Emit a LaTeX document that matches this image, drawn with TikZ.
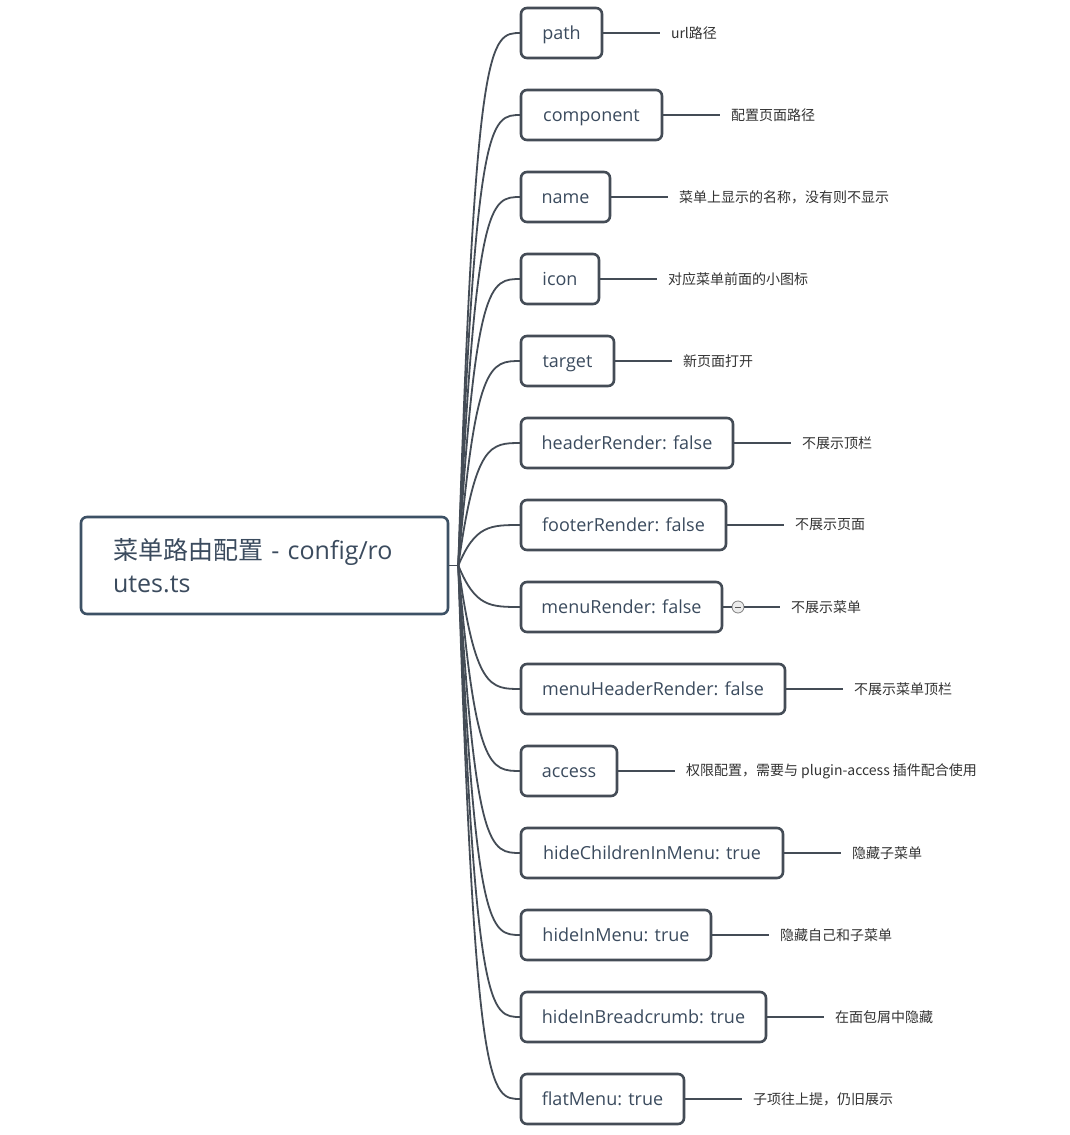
\documentclass[tikz,border=0pt]{standalone}
\usepackage{fontspec}
\setmainfont{Open Sans}
\newfontfamily\cjk{Noto Sans CJK SC}
\usetikzlibrary{positioning}

\definecolor{linegray}{HTML}{444C56}
\definecolor{rootblue}{HTML}{3D5165}
\definecolor{keytext}{HTML}{3B4B5E}
\definecolor{desctext}{HTML}{333333}

\begin{document}
\begin{tikzpicture}[x=1pt,y=-1pt,
		root/.style={draw=rootblue, line width=2.6pt, rounded corners=6pt, fill=white, minimum height=97pt, text width=303pt, inner xsep=32pt, align=left, text=keytext, font=\fontsize{25}{33}\selectfont},
		keybox/.style={draw=linegray, line width=2.6pt, rounded corners=6pt, fill=white, minimum height=50pt, inner xsep=0pt, outer sep=0pt, text height=14pt, text depth=1pt, anchor=west, text=keytext, font=\fontsize{18}{22}\selectfont},
		desc/.style={inner xsep=11pt, outer sep=0pt, text=desctext, font=\cjk\fontsize{14}{16}\selectfont},
		branch/.style={draw=linegray, line width=1.8pt},
		fold/.style={circle, draw=gray, fill=gray!15, line width=0.8pt, minimum size=12pt, inner sep=0pt}]
		\fill[white] (0,0) rectangle (1069,1135);
		\useasboundingbox (0,0) rectangle (1069,1135);
		
		% root
		\node[root] (root) at (264.5,565.5) {{\cjk 菜单路由配置} - config/ro\\utes.ts};
		\coordinate (hub) at ([xshift=9pt]root.east);
		\coordinate (ctl) at ([xshift=17pt]hub);
		\draw[branch] (root.east) -- (hub);
		
		% keys and their notes
		\foreach \i/\kname/\bw/\dtext in {
			0/path/81/url路径,
			1/component/141/配置页面路径,
			2/name/89/菜单上显示的名称，没有则不显示,
			3/icon/78/对应菜单前面的小图标,
			4/target/93/新页面打开,
			5/headerRender: false/212/不展示顶栏,
			6/footerRender: false/205/不展示页面,
			7/menuRender: false/201/不展示菜单,
			8/menuHeaderRender: false/264/不展示菜单顶栏,
			9/access/96/权限配置，需要与 plugin-access 插件配合使用,
			10/hideChildrenInMenu: true/262/隐藏子菜单,
			11/hideInMenu: true/190/隐藏自己和子菜单,
			12/hideInBreadcrumb: true/245/在面包屑中隐藏,
			13/flatMenu: true/163/子项往上提，仍旧展示}{
			\draw[branch] (hub) .. controls (ctl |- 0,{33+82*\i}) and (490,{33+82*\i}) .. (521,{33+82*\i});
			\node[keybox, minimum width=\bw pt] (k\i) at (521,{33+82*\i}) {\kname};
			\node[desc, right=58pt of k\i] (d\i) {\dtext};
			\ifnum\i=7
				\node[fold] (f\i) at ([xshift=16pt]k\i.east) {};
				\draw[branch] (k\i) -- (f\i);
				\draw[branch] (f\i) -- (d\i);
				\draw[gray!70!black, line width=0.8pt] ([xshift=-3pt]f\i.center) -- ([xshift=3pt]f\i.center);
			\else
				\draw[branch] (k\i) -- (d\i);
			\fi
		}
	\end{tikzpicture}
\end{document}
